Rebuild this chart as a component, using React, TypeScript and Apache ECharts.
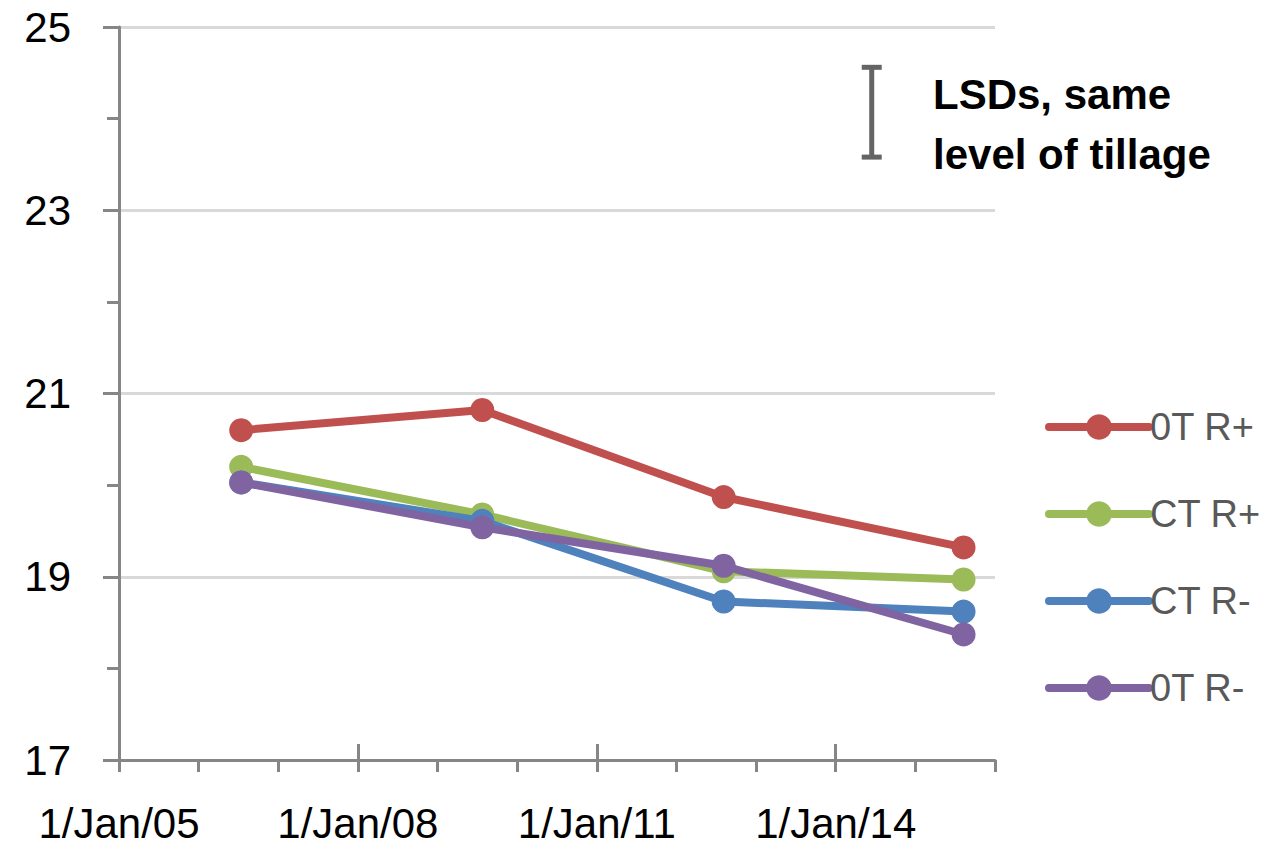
import React, { useEffect, useRef } from "react";
import * as echarts from "echarts";

const sampleDates = ["2006-07-15", "2009-07-25", "2012-08-05", "2015-08-10"];
const seriesNames = ["0T R+", "CT R+", "CT R-", "0T R-"];
const ot_rplus = [20.6, 20.82, 19.87, 19.32];
const ct_rplus = [20.2, 19.68, 19.06, 18.97];
const ct_rminus = [20.03, 19.61, 18.73, 18.62];
const ot_rminus = [20.03, 19.54, 19.12, 18.37];
const seriesColors = ["#C0504D", "#9BBB59", "#4F81BD", "#8064A2"];
const axisYears = [2005, 2006, 2007, 2008, 2009, 2010, 2011, 2012, 2013, 2014, 2015, 2016];
const yTicks = [17, 19, 21, 23, 25];
const lsdDate = "2014-06-15";
const lsdRange = [23.58, 24.56];
const lsdLabel = "LSDs, same\nlevel of tillage";

function decimalYear(d: string): number {
  const [y, m, day] = d.split("-").map(Number);
  const start = Date.UTC(y, 0, 1);
  const end = Date.UTC(y + 1, 0, 1);
  return y + (Date.UTC(y, m - 1, day) - start) / (end - start);
}

const FONT = "Liberation Sans";
const AXIS_GRAY = "#868686";

export default function App() {
  const ref = useRef<HTMLDivElement>(null);
  useEffect(() => {
    if (!ref.current) return;
    const chart = echarts.init(ref.current, null, { renderer: "svg" });
    const xs = sampleDates.map(decimalYear);
    const allValues = [ot_rplus, ct_rplus, ct_rminus, ot_rminus];
    const lineSeries = allValues.map((vals, i) => ({
      name: seriesNames[i],
      type: "line",
      xAxisIndex: 0,
      yAxisIndex: 0,
      data: vals.map((v, j) => [xs[j], v]),
      symbol: "circle",
      symbolSize: 24,
      lineStyle: { width: 8, color: seriesColors[i] },
      itemStyle: { color: seriesColors[i] },
      z: 3 + i,
    }));
    const option: any = {
      animation: false,
      grid: { left: 119, right: 271, top: 27, bottom: 87, containLabel: false },
      legend: {
        data: seriesNames,
        orient: "vertical",
        left: 1040,
        top: 403,
        itemWidth: 100,
        itemHeight: 32,
        itemGap: 49,
        lineStyle: { width: 8, cap: "round" },
        textStyle: { fontFamily: FONT, fontSize: 38, color: "#595959", padding: [0, 0, 0, -4] },
      },
      xAxis: [
        {
          type: "value",
          min: 2005,
          max: 2016,
          interval: 1,
          axisLine: { show: true, lineStyle: { color: AXIS_GRAY, width: 3 } },
          axisTick: { show: true, length: 12, lineStyle: { color: AXIS_GRAY, width: 3 } },
          axisLabel: { show: false },
          splitLine: { show: false },
        },
        {
          type: "category",
          position: "bottom",
          data: axisYears.map(String),
          boundaryGap: false,
          axisLine: { show: false },
          axisTick: {
            show: true,
            inside: true,
            length: 16,
            interval: (i: number) => i % 3 === 0 && i < axisYears.length - 1,
            lineStyle: { color: AXIS_GRAY, width: 3 },
          },
          axisLabel: {
            show: true,
            interval: (i: number) => i % 3 === 0 && i < axisYears.length - 1,
            formatter: (v: string) => "1/Jan/" + v.slice(2),
            fontFamily: FONT,
            fontSize: 42,
            color: "#000",
            margin: 42,
          },
          splitLine: { show: false },
        },
      ],
      yAxis: [
        {
          type: "value",
          min: 17,
          max: 25,
          interval: 1,
          axisLine: { show: true, lineStyle: { color: AXIS_GRAY, width: 3 } },
          axisTick: { show: true, length: 12, lineStyle: { color: AXIS_GRAY, width: 3 } },
          axisLabel: { show: false },
          splitLine: { show: false },
        },
        {
          type: "value",
          position: "left",
          min: yTicks[0],
          max: yTicks[yTicks.length - 1],
          interval: 2,
          axisLine: { show: false },
          axisTick: { show: true, length: 16, lineStyle: { color: AXIS_GRAY, width: 3 } },
          axisLabel: { show: true, fontFamily: FONT, fontSize: 42, color: "#000", margin: 48 },
          splitLine: { show: true, lineStyle: { color: "#D9D9D9", width: 3 } },
        },
      ],
      graphic: [
        {
          type: "text",
          left: 933,
          top: 64,
          style: {
            text: lsdLabel,
            font: `bold 42px ${FONT}`,
            fill: "#000",
            lineHeight: 60,
          },
        },
      ],
      series: [
        ...lineSeries,
        {
          name: "LSD",
          type: "custom",
          xAxisIndex: 0,
          yAxisIndex: 0,
          data: [[decimalYear(lsdDate), lsdRange[0], lsdRange[1]]],
          renderItem: (params: any, api: any) => {
            const x = api.value(0);
            const lo = api.coord([x, api.value(1)]);
            const hi = api.coord([x, api.value(2)]);
            const w = 10;
            const st = { stroke: "#646464", lineWidth: 5 };
            return {
              type: "group",
              children: [
                { type: "line", shape: { x1: lo[0], y1: lo[1], x2: hi[0], y2: hi[1] }, style: st },
                { type: "line", shape: { x1: lo[0] - w, y1: lo[1], x2: lo[0] + w, y2: lo[1] }, style: st },
                { type: "line", shape: { x1: hi[0] - w, y1: hi[1], x2: hi[0] + w, y2: hi[1] }, style: st },
              ],
            };
          },
          z: 10,
        },
      ],
    };
    chart.setOption(option);
    return () => chart.dispose();
  }, []);
  return (
    <div
      ref={ref}
      style={{ position: "fixed", left: 0, top: 0, width: 1266, height: 847, background: "#fff" }}
    />
  );
}
